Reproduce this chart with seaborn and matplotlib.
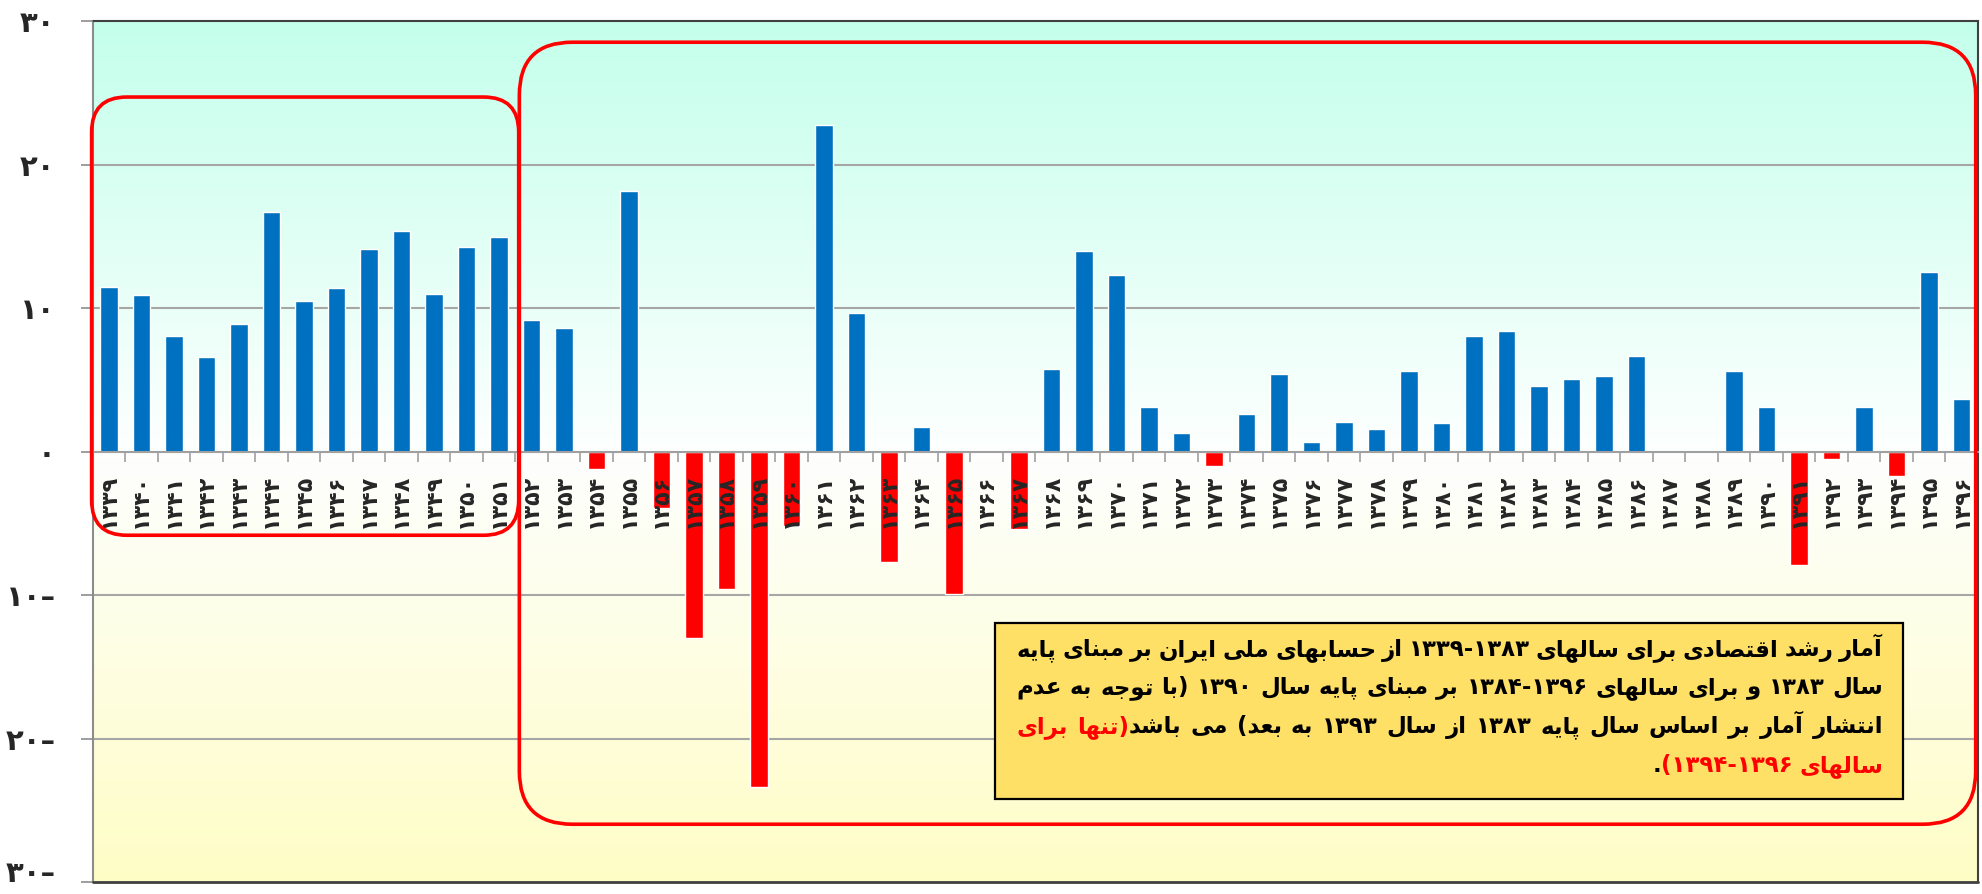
import re
import matplotlib
matplotlib.use("Agg")
import matplotlib.pyplot as plt
import seaborn as sns
import numpy as np
from matplotlib.colors import LinearSegmentedColormap
from matplotlib.patches import FancyBboxPatch, Rectangle

# ---- data ----
years = list(range(1339, 1397))
growth = [11.5, 10.9, 8.1, 6.6, 8.9, 16.7, 10.5, 11.4, 14.1, 15.4,
          11.0, 14.3, 15.0, 9.2, 8.6, -1.2, 18.2, -3.9, -13.0, -9.6,
          -23.4, -5.2, 22.8, 9.7, -7.7, 1.7, -9.9, 0.1, -5.4, 5.8,
          14.0, 12.3, 3.1, 1.3, -1.0, 2.6, 5.4, 0.7, 2.1, 1.6,
          5.6, 2.0, 8.1, 8.4, 4.6, 5.1, 5.3, 6.7, -0.1, 0.0,
          5.6, 3.1, -7.9, -0.5, 3.1, -1.7, 12.5, 3.7]
y_ticks = [-30, -20, -10, 0, 10, 20, 30]
y_tick_labels = ["۳۰–", "۲۰–", "۱۰–", "۰", "۱۰", "۲۰", "۳۰"]

note_lines = [
    [("آمار رشد اقتصادی برای سالهای ۱۳۳۹-۱۳۸۳ از حسابهای ملی ایران بر مبنای پایه", "black")],
    [("سال ۱۳۸۳ و برای سالهای ۱۳۸۴-۱۳۹۶ بر مبنای پایه سال ۱۳۹۰ (با توجه به عدم", "black")],
    [("انتشار آمار بر اساس سال پایه ۱۳۸۳ از سال ۱۳۹۳ به بعد) می باشد", "black"),
     ("(تنها برای", "red")],
    [("سالهای ۱۳۹۴-۱۳۹۶)", "red"), (".", "black")],
]

FA_DIGITS = str.maketrans("0123456789", "۰۱۲۳۴۵۶۷۸۹")
year_labels = [str(y).translate(FA_DIGITS) for y in years]

# ---- minimal Persian shaping (matplotlib has no bidi/shaping) ----
FORMS = {
    "ا": (0xFE8D, 2), "آ": (0xFE81, 2), "ب": (0xFE8F, 4), "پ": (0xFB56, 4),
    "ت": (0xFE95, 4), "ث": (0xFE99, 4), "ج": (0xFE9D, 4), "چ": (0xFB7A, 4),
    "ح": (0xFEA1, 4), "خ": (0xFEA5, 4), "د": (0xFEA9, 2), "ذ": (0xFEAB, 2),
    "ر": (0xFEAD, 2), "ز": (0xFEAF, 2), "ژ": (0xFB8A, 2), "س": (0xFEB1, 4),
    "ش": (0xFEB5, 4), "ص": (0xFEB9, 4), "ض": (0xFEBD, 4), "ط": (0xFEC1, 4),
    "ظ": (0xFEC5, 4), "ع": (0xFEC9, 4), "غ": (0xFECD, 4), "ف": (0xFED1, 4),
    "ق": (0xFED5, 4), "ک": (0xFB8E, 4), "گ": (0xFB92, 4), "ل": (0xFEDD, 4),
    "م": (0xFEE1, 4), "ن": (0xFEE5, 4), "ه": (0xFEE9, 4), "و": (0xFEED, 2),
    "ی": (0xFBFC, 4),
}


def shape(word):
    out = []
    for i, ch in enumerate(word):
        if ch not in FORMS:
            out.append(ch)
            continue
        base, n = FORMS[ch]
        prev = word[i - 1] if i > 0 else ""
        nxt = word[i + 1] if i + 1 < len(word) else ""
        jp = prev in FORMS and FORMS[prev][1] == 4
        jn = n == 4 and nxt in FORMS
        off = 3 if (jp and jn) else 1 if jp else 2 if jn else 0
        out.append(chr(base + off))
    return "".join(out)


def visual(word):
    s = shape(word)[::-1]
    s = s.translate(str.maketrans("()", ")("))
    # number runs (with the dash between years) stay left-to-right
    return re.sub("[۰-۹]+(?:-[۰-۹]+)*", lambda m: m.group(0)[::-1], s)


# ---- figure ----
sns.set_style("white")
plt.rcParams["font.family"] = ["DejaVu Sans"]

fig = plt.figure(figsize=(19.83, 8.94), dpi=100)
ax = fig.add_axes([0.0467, 0.0132, 0.9506, 0.9630])

sign = ["pos" if v >= 0 else "neg" for v in growth]
sns.barplot(x=year_labels, y=growth, hue=sign, order=year_labels,
            palette={"pos": "#0070C0", "neg": "#FF0000"}, dodge=False,
            width=0.54, saturation=1, legend=False, ax=ax, zorder=2)

# gradient background
cmap = LinearSegmentedColormap.from_list(
    "bg", [(0, "#FFFDC6"), (0.5, "#FDFFFE"), (1, "#C4FFEB")])
ax.imshow(np.linspace(0, 1, 256).reshape(-1, 1), cmap=cmap, origin="lower",
          extent=[0, 1, 0, 1], transform=ax.transAxes, aspect="auto", zorder=0)

ax.set_xlim(-0.5, len(years) - 0.5)
ax.set_ylim(-30, 30)

for g in [-20, -10, 10, 20]:
    ax.axhline(g, color="#A6A6A6", lw=1.5, zorder=0.8)

ax.set_axisbelow(False)
ax.spines["bottom"].set_position(("data", 0))
ax.spines["bottom"].set_color("#A0A0A0")
ax.spines["bottom"].set_linewidth(1.5)
ax.spines["left"].set_color("#8C8C8C")
ax.spines["left"].set_linewidth(1.5)
for s in ["top", "right"]:
    ax.spines[s].set_color("#404040")
    ax.spines[s].set_linewidth(1.5)
ax.axhline(-30, color="#404040", lw=2, clip_on=False, zorder=3)

# y ticks; the lowest label sits at the figure edge, so draw it a touch higher
ax.set_yticks(y_ticks)
ax.set_yticklabels([""] + y_tick_labels[1:], fontsize=21, fontweight="bold")
ax.tick_params(axis="y", direction="out", length=8.6, width=1.2,
               color="#8C8C8C", pad=18, left=True)
ax.annotate(y_tick_labels[0], xy=(0, y_ticks[0]), xycoords=ax.get_yaxis_transform(),
            xytext=(-26.6, 6), textcoords="offset points", ha="right", va="center",
            fontsize=21, fontweight="bold", annotation_clip=False)

ax.set_xticks(range(len(years)))
ax.set_xticklabels(year_labels, rotation=90, fontsize=16, fontweight="bold")
ax.set_xticks(np.arange(0.5, len(years) - 1, 1.0), minor=True)
ax.tick_params(axis="x", which="major", length=0, pad=16, bottom=True)
ax.tick_params(axis="x", which="minor", length=7.2, width=1.2,
               color="#A0A0A0", direction="out", bottom=True)
ax.set_xlabel("")
ax.set_ylabel("")

# ---- red rounded frames and note box ----
fig.canvas.draw()
renderer = fig.canvas.get_renderer()
p0 = ax.transData.transform((0, 0))
p1 = ax.transData.transform((1, 1))
px_x, px_y = p1[0] - p0[0], p1[1] - p0[1]
aspect = px_x / px_y

for (x0, x1, y0, y1, r) in [(-0.53, 12.61, -5.82, 24.72, 1.08),
                            (12.63, 57.44, -25.96, 28.54, 1.63)]:
    ax.add_patch(FancyBboxPatch((x0, y0), x1 - x0, y1 - y0,
                                boxstyle=f"round,pad=0,rounding_size={r}",
                                mutation_aspect=aspect, fill=False,
                                ec="#FF0000", lw=2.6, zorder=4, clip_on=False))

ax.add_patch(Rectangle((27.25, -24.2), 55.2 - 27.25, -11.96 + 24.2,
                       fc="#FFE066", ec="black", lw=1.6, zorder=4.5))

FS = 16.5
right, left = 54.59, 27.93
natural_gap = FS * 100 / 72 * 0.28 / px_x
baselines = [-14.26, -16.87, -19.59, -22.34]
for li, (line, by) in enumerate(zip(note_lines, baselines)):
    tokens = []
    for k, (seg, col) in enumerate(line):
        for j, w in enumerate(seg.split(" ")):
            tokens.append((w, col, not (k > 0 and j == 0)))
    arts = [ax.text(0, by, visual(w), color=c, fontsize=FS, fontweight="bold",
                    ha="right", va="baseline", zorder=5) for w, c, _ in tokens]
    widths = [a.get_window_extent(renderer).width / px_x for a in arts]
    n_gaps = sum(1 for t in tokens[1:] if t[2])
    justify = li < len(note_lines) - 1
    gap = (right - left - sum(widths)) / n_gaps if justify else natural_gap
    x = right
    for i, (a, wd, tok) in enumerate(zip(arts, widths, tokens)):
        if i > 0 and tok[2]:
            x -= gap
        a.set_x(x)
        x -= wd

fig.savefig("out.png", dpi=100)
